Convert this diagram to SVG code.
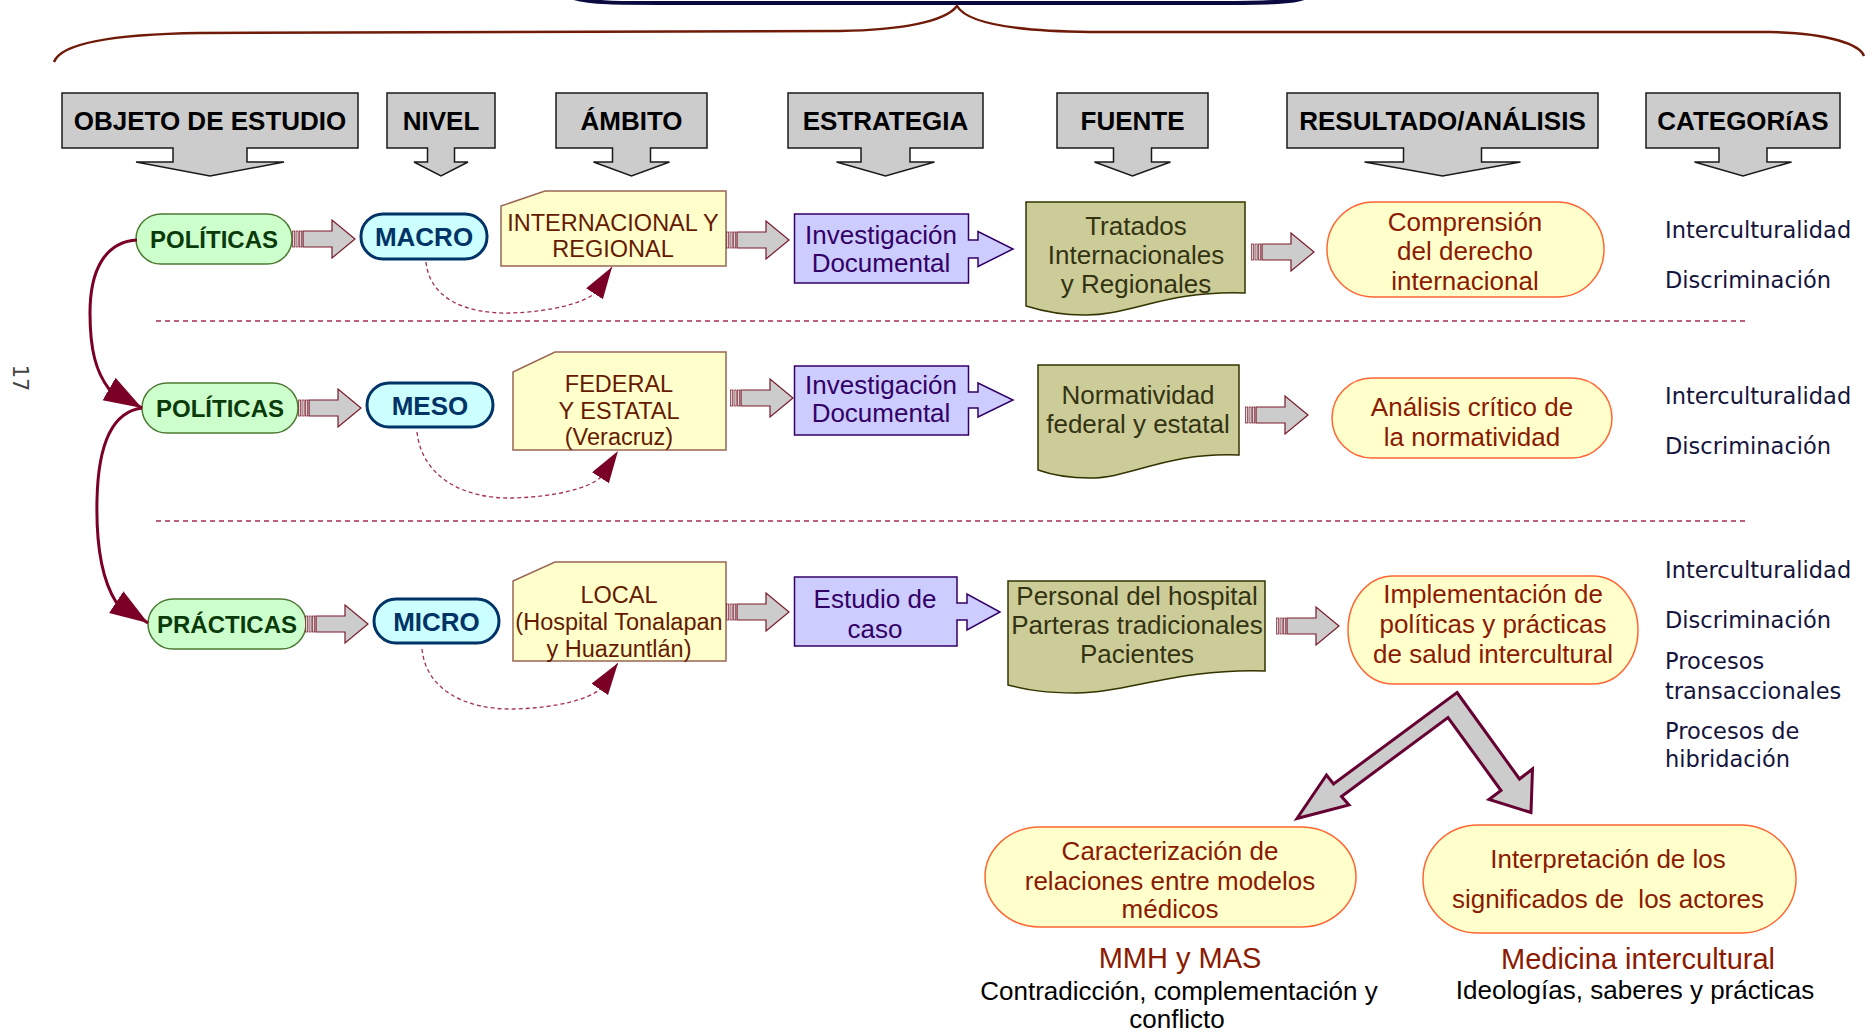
<svg xmlns="http://www.w3.org/2000/svg" width="1875" height="1032" viewBox="0 0 1875 1032">
<style>
.hdr{fill:#cccccc;stroke:#1a1a1a;stroke-width:1.5}
.hdrt{font-family:'Liberation Sans',Arial,sans-serif;font-weight:bold;font-size:26px;fill:#000;text-anchor:middle}
.obj{fill:#ccffcc;stroke:#4d7a33;stroke-width:1.5}
.objt{font-family:'Liberation Sans',Arial,sans-serif;font-weight:bold;font-size:24px;fill:#0a3a0a;text-anchor:middle}
.niv{fill:#ccffff;stroke:#003366;stroke-width:3}
.nivt{font-family:'Liberation Sans',Arial,sans-serif;font-weight:bold;font-size:26px;fill:#003366;text-anchor:middle}
.amb{fill:#ffffcc;stroke:#996655;stroke-width:1.5}
.ambt{font-family:'Liberation Sans',Arial,sans-serif;font-size:23.5px;fill:#661a00;text-anchor:middle}
.est{fill:#ccccff;stroke:#330066;stroke-width:1.5}
.estt{font-family:'Liberation Sans',Arial,sans-serif;font-size:26px;fill:#330066;text-anchor:middle}
.fue{fill:#cccc99;stroke:#333300;stroke-width:1.5}
.fuet{font-family:'Liberation Sans',Arial,sans-serif;font-size:26px;fill:#333311;text-anchor:middle}
.res{fill:#ffffcc;stroke:#ff6633;stroke-width:1.5}
.rest{font-family:'Liberation Sans',Arial,sans-serif;font-size:26px;fill:#8b1a00;text-anchor:middle}
.cat{font-family:'DejaVu Sans',Verdana,sans-serif;font-size:22.5px;fill:#14143c}
.ttl{font-family:'Liberation Sans',Arial,sans-serif;font-size:29px;fill:#8b1a00;text-anchor:middle}
.sub{font-family:'Liberation Sans',Arial,sans-serif;font-size:26px;fill:#000;text-anchor:middle}
.sep{stroke:#a33050;stroke-width:1.5;stroke-dasharray:5,4;fill:none}
.dcon{stroke:#a33050;stroke-width:1.3;stroke-dasharray:4,3;fill:none;marker-end:url(#ahd)}
.scon{stroke:#7a0025;stroke-width:3;fill:none;marker-end:url(#ah)}
.bar{fill:#cccccc;stroke:#7a1a2a;stroke-width:1.2}
.stripe{fill:#d8d8d8;stroke:#7a1a2a;stroke-width:0.7}
.varrow{fill:#cccccc;stroke:#660033;stroke-width:3;stroke-linejoin:miter}
</style>
<defs>
<marker id="ah" markerWidth="40" markerHeight="28" refX="38" refY="13" orient="auto" markerUnits="userSpaceOnUse"><path d="M0,0 L38,13 L0,26 Z" fill="#7a0025"/></marker>
<marker id="ahd" markerWidth="34" markerHeight="22" refX="32" refY="10" orient="auto" markerUnits="userSpaceOnUse"><path d="M0,0 L32,10 L0,20 Z" fill="#7a0025"/></marker>
<g id="barrow">
<rect class="stripe" x="0.5" y="-8" width="2.2" height="16"/><rect class="stripe" x="4" y="-8" width="2.2" height="16"/><rect class="stripe" x="7.5" y="-8" width="2.2" height="16"/>
<path class="bar" d="M11,-8 H40 V-19 L63,0 L40,19 V8 H11 Z"/>
</g>
</defs>

<!-- top decoration -->
<path d="M574,-2 C590,3 620,3 660,3 L1220,3 C1270,3 1295,2 1304,-2" fill="none" stroke="#0a0a40" stroke-width="4"/>
<path d="M54,62 C62,40 130,34 200,33 L840,31 C900,30 945,22 957,6 C965,20 1000,31 1090,32 L1770,32 C1830,33 1860,45 1864,56" fill="none" stroke="#701a08" stroke-width="2.5"/>
<text transform="translate(13,378) rotate(90)" font-family="'DejaVu Sans',sans-serif" font-size="21" fill="#444" text-anchor="middle">17</text>

<!-- headers -->
<g id="h-objeto"><path class="hdr" d="M62,93 H358 V148 H247 V162 H284 L210,176 L136,162 H173 V148 H62 Z"/><text class="hdrt" x="210" y="130">OBJETO DE ESTUDIO</text></g>
<g id="h-nivel"><path class="hdr" d="M387,93 H495 V148 H454.5 V162 H468 L441,176 L414,162 H427.5 V148 H387 Z"/><text class="hdrt" x="441" y="130">NIVEL</text></g>
<g id="h-ambito"><path class="hdr" d="M556,93 H707 V148 H650.5 V162 H669.5 L631.5,176 L593.5,162 H612.5 V148 H556 Z"/><text class="hdrt" x="631.5" y="130">ÁMBITO</text></g>
<g id="h-estrategia"><path class="hdr" d="M788,93 H983 V148 H910 V162 H934.5 L885.5,176 L836.5,162 H861 V148 H788 Z"/><text class="hdrt" x="885.5" y="130">ESTRATEGIA</text></g>
<g id="h-fuente"><path class="hdr" d="M1057,93 H1208 V148 H1151.5 V162 H1170.5 L1132.5,176 L1094.5,162 H1113.5 V148 H1057 Z"/><text class="hdrt" x="1132.5" y="130">FUENTE</text></g>
<g id="h-resultado"><path class="hdr" d="M1287,93 H1598 V148 H1481.5 V162 H1520.5 L1442.5,176 L1364.5,162 H1403.5 V148 H1287 Z"/><text class="hdrt" x="1442.5" y="130">RESULTADO/ANÁLISIS</text></g>
<g id="h-categorias"><path class="hdr" d="M1646,93 H1840 V148 H1767 V162 H1791.5 L1743,176 L1694.5,162 H1719 V148 H1646 Z"/><text class="hdrt" x="1743" y="130">CATEGORíAS</text></g>

<!-- separators -->
<line class="sep" x1="156" y1="321" x2="1748" y2="321"/>
<line class="sep" x1="156" y1="521" x2="1748" y2="521"/>

<!-- row 1 -->
<g id="n-politicas1"><rect class="obj" x="136" y="214" width="156" height="50" rx="25"/><text class="objt" x="214" y="247.5">POLÍTICAS</text></g>
<g id="n-macro"><rect class="niv" x="361" y="214" width="126" height="45" rx="22"/><text class="nivt" x="424" y="246">MACRO</text></g>
<g id="n-internacional"><path class="amb" d="M545,191 H726 V266 H501 V206 Z"/><text class="ambt" x="613" y="231">INTERNACIONAL Y</text><text class="ambt" x="613" y="257">REGIONAL</text></g>
<g id="n-invdoc1"><path class="est" d="M794.5,214 H968.5 V240 H978 V231.5 L1013,249 L978,266.5 V258 H968.5 V283 H794.5 Z"/><text class="estt" x="881" y="244">Investigación</text><text class="estt" x="881" y="272">Documental</text></g>
<g id="n-tratados"><path class="fue" d="M1026,202 H1245 V293 C1165,290 1130,316 1084,315 C1060,315 1042,311 1026,306 Z"/><text class="fuet" x="1136" y="235">Tratados</text><text class="fuet" x="1136" y="264">Internacionales</text><text class="fuet" x="1136" y="293">y Regionales</text></g>
<g id="n-comprension"><rect class="res" x="1327" y="202" width="277" height="95" rx="47" ry="47"/><text class="rest" x="1465" y="231">Comprensión</text><text class="rest" x="1465" y="260">del derecho</text><text class="rest" x="1465" y="290">internacional</text></g>
<g id="c-cat1"><text class="cat" x="1665" y="238">Interculturalidad</text><text class="cat" x="1665" y="288">Discriminación</text></g>

<!-- row 2 -->
<g id="n-politicas2"><rect class="obj" x="142" y="383" width="156" height="50" rx="25"/><text class="objt" x="220" y="416.5">POLÍTICAS</text></g>
<g id="n-meso"><rect class="niv" x="367" y="383" width="126" height="44" rx="22"/><text class="nivt" x="430" y="414.5">MESO</text></g>
<g id="n-federal"><path class="amb" d="M555,352 H726 V450 H513 V372 Z"/><text class="ambt" x="619" y="392">FEDERAL</text><text class="ambt" x="619" y="419">Y ESTATAL</text><text class="ambt" x="619" y="445">(Veracruz)</text></g>
<g id="n-invdoc2"><path class="est" d="M794.5,366 H968.5 V392 H978 V383 L1013,400 L978,417 V408 H968.5 V435 H794.5 Z"/><text class="estt" x="881" y="394">Investigación</text><text class="estt" x="881" y="422">Documental</text></g>
<g id="n-normatividad"><path class="fue" d="M1038,365 H1239 V455 C1165,452 1132,478 1090,478 C1066,478 1052,475 1038,470 Z"/><text class="fuet" x="1138" y="404">Normatividad</text><text class="fuet" x="1138" y="433">federal y estatal</text></g>
<g id="n-analisis"><rect class="res" x="1332" y="378" width="280" height="80" rx="40" ry="40"/><text class="rest" x="1472" y="416">Análisis crítico de</text><text class="rest" x="1472" y="446">la normatividad</text></g>
<g id="c-cat2"><text class="cat" x="1665" y="404">Interculturalidad</text><text class="cat" x="1665" y="454">Discriminación</text></g>

<!-- row 3 -->
<g id="n-practicas"><rect class="obj" x="148" y="599" width="158" height="50" rx="25"/><text class="objt" x="227" y="632.5">PRÁCTICAS</text></g>
<g id="n-micro"><rect class="niv" x="374" y="599" width="125" height="44" rx="22"/><text class="nivt" x="436.5" y="630.5">MICRO</text></g>
<g id="n-local"><path class="amb" d="M555,562 H726 V661 H513 V581 Z"/><text class="ambt" x="619" y="603">LOCAL</text><text class="ambt" x="619" y="630">(Hospital Tonalapan</text><text class="ambt" x="619" y="657">y Huazuntlán)</text></g>
<g id="n-estudio"><path class="est" d="M794.5,577 H957 V603 H967 V594 L1000,612 L967,630 V620 H957 V646 H794.5 Z"/><text class="estt" x="875" y="608">Estudio de</text><text class="estt" x="875" y="638">caso</text></g>
<g id="n-personal"><path class="fue" d="M1008,581 H1265 V671 C1180,668 1125,693 1076,693 C1045,693 1028,690 1008,685 Z"/><text class="fuet" x="1137" y="605">Personal del hospital</text><text class="fuet" x="1137" y="634">Parteras tradicionales</text><text class="fuet" x="1137" y="663">Pacientes</text></g>
<g id="n-implementacion"><rect class="res" x="1348" y="576" width="290" height="108" rx="45" ry="54"/><text class="rest" x="1493" y="603">Implementación de</text><text class="rest" x="1493" y="633">políticas y prácticas</text><text class="rest" x="1493" y="663">de salud intercultural</text></g>
<g id="c-cat3"><text class="cat" x="1665" y="578">Interculturalidad</text><text class="cat" x="1665" y="628">Discriminación</text><text class="cat" x="1665" y="669">Procesos</text><text class="cat" x="1665" y="699">transaccionales</text><text class="cat" x="1665" y="739">Procesos de</text><text class="cat" x="1665" y="767">hibridación</text></g>

<!-- bottom -->
<g id="n-caracterizacion"><rect class="res" x="985" y="827" width="371" height="100" rx="55" ry="50"/><text class="rest" x="1170" y="860">Caracterización de</text><text class="rest" x="1170" y="890">relaciones entre modelos</text><text class="rest" x="1170" y="918">médicos</text></g>
<g id="n-interpretacion"><rect class="res" x="1423" y="825" width="373" height="108" rx="55" ry="54"/><text class="rest" x="1608" y="868">Interpretación de los</text><text class="rest" x="1608" y="908" style="white-space:pre">significados de  los actores</text></g>
<g id="t-mmh"><text class="ttl" x="1180" y="968">MMH y MAS</text><text class="sub" x="1179" y="1000">Contradicción, complementación y</text><text class="sub" x="1177" y="1028">conflicto</text></g>
<g id="t-medicina"><text class="ttl" x="1638" y="969">Medicina intercultural</text><text class="sub" x="1635" y="999">Ideologías, saberes y prácticas</text></g>

<!-- connectors -->
<g id="connectors">
<use href="#barrow" x="292" y="239"/>
<use href="#barrow" x="726" y="240"/>
<use href="#barrow" x="1251" y="252"/>
<use href="#barrow" x="298" y="408"/>
<use href="#barrow" x="730" y="398"/>
<use href="#barrow" x="1245" y="415"/>
<use href="#barrow" x="305" y="624"/>
<use href="#barrow" x="726" y="612"/>
<use href="#barrow" x="1276" y="626"/>
<path class="dcon" d="M426,262 C430,300 468,314 510,313 C550,312 584,303 595,293 L612,267"/>
<path class="dcon" d="M417,432 C422,478 465,499 512,498 C555,497 590,488 601,477 L618,451"/>
<path class="dcon" d="M422,649 C426,690 466,710 514,709 C556,708 590,699 600,689 L618,663"/>
<path class="scon" d="M137,240 C105,242 90,270 90,313 C90,350 96,372 109,389 L142,408"/>
<path class="scon" d="M142,408 C110,412 98,450 97,500 C96,545 102,580 116,602 L148,623"/>
<path class="varrow" d="M1457,692.5 L1519.5,779 L1532.5,769 L1531,812.5 L1489,799.5 L1501,790.5 L1448,717.5 L1341.5,796.5 L1349,805 L1297,818.5 L1326.5,775 L1333.5,784 Z"/>
</g>
</svg>
